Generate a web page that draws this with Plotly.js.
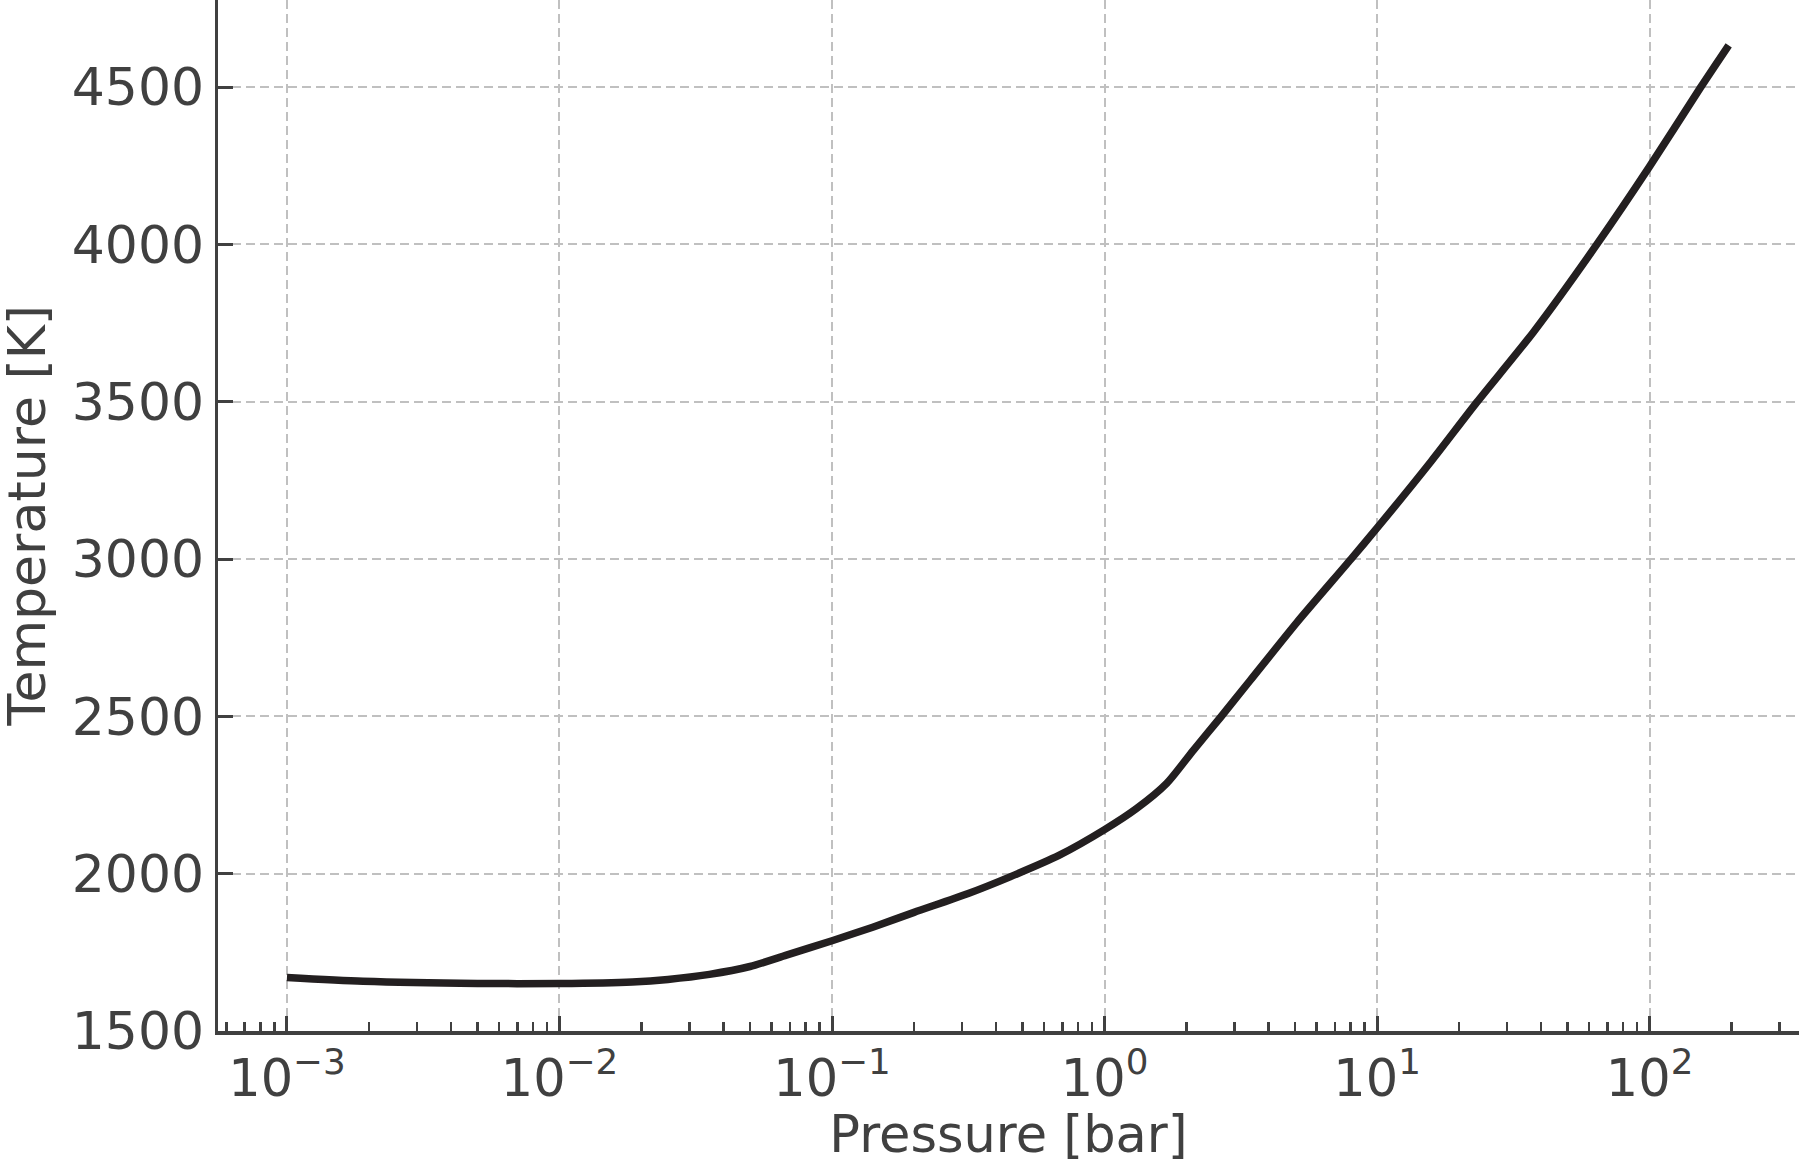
<!DOCTYPE html>
<html>
<head>
<meta charset="utf-8">
<script src="https://cdn.plot.ly/plotly-3.0.1.min.js"></script>
<style>
  html, body { margin: 0; padding: 0; background: #ffffff; }
  #chart { width: 1802px; height: 1164px; }
</style>
</head>
<body>
<div id="chart"></div>
<script>
// Pressure–temperature profile, values
const pressure_bar = [0.001, 0.0019, 0.005, 0.01, 0.0185, 0.025, 0.0355, 0.05, 0.068, 0.1,
                      0.141, 0.2, 0.316, 0.45, 0.68, 1.0, 1.31, 1.69, 2.12, 2.67,
                      3.42, 5.08, 8.02, 10, 15.8, 23.2, 37.5, 64, 100, 154, 195];
const temperature_K = [1670, 1658, 1651, 1651, 1656, 1664, 1680, 1705, 1741, 1787,
                       1830, 1877, 1937, 1990, 2058, 2140, 2207, 2287, 2393, 2498,
                       2614, 2799, 3000, 3099, 3311, 3498, 3722, 4000, 4248, 4500, 4633];

const xTickVals = [0.001, 0.01, 0.1, 1, 10, 100];
const xTickText = ['10<sup>\u22123</sup>', '10<sup>\u22122</sup>', '10<sup>\u22121</sup>',
                   '10<sup>0</sup>', '10<sup>1</sup>', '10<sup>2</sup>'];
const yTickVals = [1500, 2000, 2500, 3000, 3500, 4000, 4500];

const xTitle = 'Pressure [bar]';
const yTitle = 'Temperature [K]';

// minor ticks: 2..9 x each decade (decoration only)
const minorVals = [];
for (let e = -4; e <= 2; e++) {
  for (let m = 2; m <= 9; m++) minorVals.push(m * Math.pow(10, e));
}

const textColor = '#404040';
const axisColor = '#404040';
const gridColor = '#c0c0c0';
const FONT = 'DejaVu Sans, sans-serif';

const trace = {
  x: pressure_bar,
  y: temperature_K,
  type: 'scatter',
  mode: 'lines',
  line: { color: '#231f20', width: 7.5, shape: 'spline', smoothing: 0.7 },
  hoverinfo: 'x+y'
};

const layout = {
  width: 1802,
  height: 1164,
  paper_bgcolor: '#ffffff',
  plot_bgcolor: '#ffffff',
  margin: { l: 218, r: 3, t: 0, b: 133 },
  showlegend: false,
  font: { family: FONT, color: textColor, size: 51 },
  xaxis: {
    type: 'log',
    range: [-3.253, 2.548],
    tickmode: 'array',
    tickvals: xTickVals,
    ticktext: xTickText,
    ticks: 'inside',
    ticklen: 15,
    tickwidth: 3,
    tickcolor: axisColor,
    tickfont: { family: FONT, size: 51, color: textColor },
    showline: true,
    linecolor: axisColor,
    linewidth: 3.5,
    mirror: false,
    showgrid: true,
    gridcolor: gridColor,
    gridwidth: 2,
    griddash: '9px,5px',
    zeroline: false,
    minor: {
      tickmode: 'array',
      tickvals: minorVals,
      ticks: 'inside',
      ticklen: 9,
      tickwidth: 2.5,
      tickcolor: axisColor,
      showgrid: false
    },
    title: { text: xTitle, font: { family: FONT, size: 51, color: textColor }, standoff: 14 },
    automargin: false
  },
  yaxis: {
    range: [1500, 4777],
    tickmode: 'array',
    tickvals: yTickVals,
    ticks: 'inside',
    ticklen: 15,
    tickwidth: 3,
    tickcolor: axisColor,
    tickfont: { family: FONT, size: 52, color: textColor },
    showline: true,
    linecolor: axisColor,
    linewidth: 3.5,
    mirror: false,
    showgrid: true,
    gridcolor: gridColor,
    gridwidth: 2,
    griddash: '9px,5px',
    zeroline: false,
    automargin: false
  },
  annotations: [{
    text: yTitle,
    xref: 'paper', yref: 'paper',
    x: 0, y: 0.5,
    xanchor: 'center', yanchor: 'middle',
    xshift: -192,
    textangle: -90,
    showarrow: false,
    font: { family: FONT, size: 52, color: textColor }
  }]
};

Plotly.newPlot('chart', [trace], layout, { displayModeBar: false, staticPlot: true });
</script>
</body>
</html>
